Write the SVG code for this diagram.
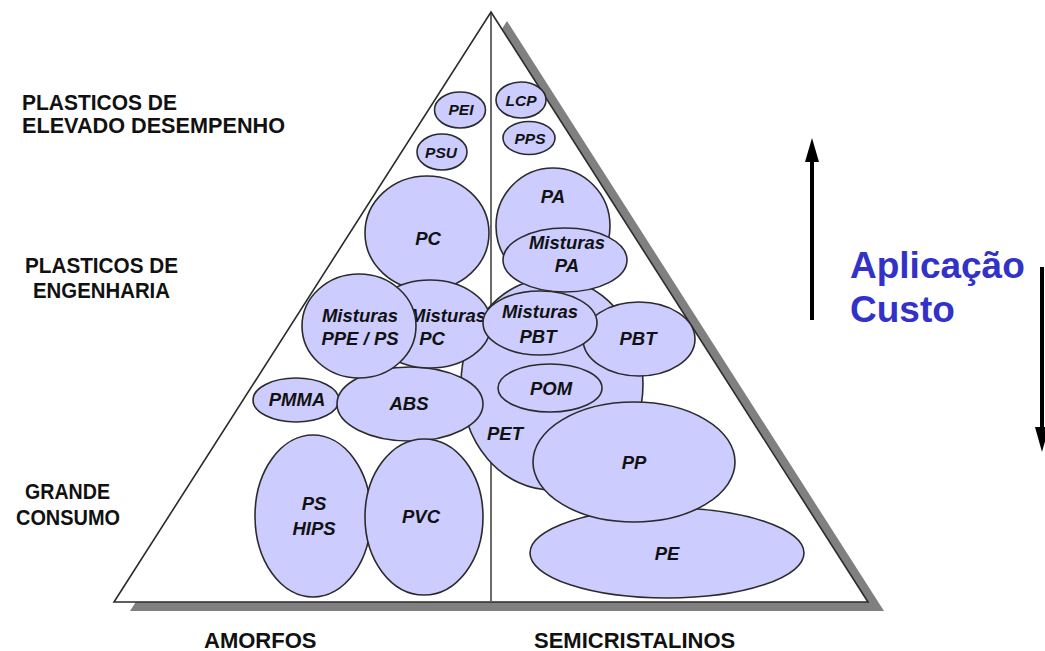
<svg xmlns="http://www.w3.org/2000/svg" width="1045" height="651" viewBox="0 0 1045 651">
<style>
.bg{fill:#ffffff}
.shadow{fill:#808080}
.tri{fill:#ffffff;stroke:#2b2b2b;stroke-width:1.6}
.div{stroke:#2b2b2b;stroke-width:1.4}
.el{fill:#ccccff;stroke:#2b2b2b;stroke-width:1.6}
.lb{font-family:"Liberation Sans",Arial,sans-serif;font-weight:bold;font-style:italic;font-size:18.5px;fill:#111;text-anchor:middle}
.sm{font-size:15.5px}
.cat{font-family:"Liberation Sans",Arial,sans-serif;font-weight:bold;font-size:22px;fill:#111}
.mid{text-anchor:middle}
.blue{font-family:"Liberation Sans",Arial,sans-serif;font-weight:bold;font-size:37px;fill:#3232c8}
.arr{stroke:#000;stroke-width:4}
</style>
<rect class="bg" x="0" y="0" width="1045" height="651"/>
<g id="pyramid">
<polygon class="shadow" points="507,21 884,611 130,611"/>
<polygon class="tri" points="491,12 868,602 114,602"/>
<line class="div" x1="491" y1="12" x2="491" y2="601"/>
</g>
<g id="labels">
<text class="cat" x="22" y="110" textLength="155" lengthAdjust="spacingAndGlyphs">PLASTICOS DE</text>
<text class="cat" x="22" y="133" textLength="263" lengthAdjust="spacingAndGlyphs">ELEVADO DESEMPENHO</text>
<text class="cat" x="25" y="273" textLength="153" lengthAdjust="spacingAndGlyphs">PLASTICOS DE</text>
<text class="cat" x="33" y="298" textLength="137" lengthAdjust="spacingAndGlyphs">ENGENHARIA</text>
<text class="cat" x="25" y="499" textLength="85" lengthAdjust="spacingAndGlyphs">GRANDE</text>
<text class="cat" x="16" y="525" textLength="104" lengthAdjust="spacingAndGlyphs">CONSUMO</text>
<text class="cat" x="204" y="648">AMORFOS</text>
<text class="cat" x="534" y="648">SEMICRISTALINOS</text>
<text class="blue" x="850" y="278">Aplicação</text>
<text class="blue" x="850" y="322">Custo</text>
</g>
<g id="node-PEI"><ellipse class="el" cx="460" cy="110" rx="25.5" ry="18"/><text class="lb sm" x="461" y="115">PEI</text></g>
<g id="node-LCP"><ellipse class="el" cx="521" cy="100" rx="25" ry="18"/><text class="lb sm" x="521" y="106">LCP</text></g>
<g id="node-PPS"><ellipse class="el" cx="529" cy="138" rx="26" ry="16.5"/><text class="lb sm" x="530" y="144">PPS</text></g>
<g id="node-PSU"><ellipse class="el" cx="442" cy="152" rx="25" ry="18"/><text class="lb sm" x="441" y="158">PSU</text></g>
<g id="node-PET"><ellipse class="el" cx="552" cy="384" rx="91" ry="106"/><text class="lb" x="505" y="440">PET</text></g>
<g id="node-PA"><ellipse class="el" cx="553" cy="226" rx="57" ry="58"/><text class="lb" x="553" y="203">PA</text></g>
<g id="node-MisturasPA"><ellipse class="el" cx="565" cy="260" rx="62" ry="32"/><text class="lb" x="567" y="249">Misturas</text><text class="lb" x="567" y="272">PA</text></g>
<g id="node-PC"><ellipse class="el" cx="427" cy="233" rx="62" ry="57"/><text class="lb" x="428" y="245">PC</text></g>
<g id="node-PMMA"><ellipse class="el" cx="296" cy="400" rx="43" ry="22"/><text class="lb" x="297" y="406">PMMA</text></g>
<g id="node-ABS"><ellipse class="el" cx="410" cy="404" rx="73" ry="37"/><text class="lb" x="409" y="410">ABS</text></g>
<g id="node-MisturasPC"><ellipse class="el" cx="430" cy="324" rx="61" ry="44"/><text class="lb" x="410" y="322" style="text-anchor:start">Misturas</text><text class="lb" x="432" y="345">PC</text></g>
<g id="node-MisturasPPE"><ellipse class="el" cx="359" cy="326" rx="57" ry="52"/><text class="lb" x="360" y="322">Misturas</text><text class="lb" x="360" y="345">PPE / PS</text></g>
<g id="node-PBT"><ellipse class="el" cx="639" cy="339" rx="56" ry="37"/><text class="lb" x="638" y="345">PBT</text></g>
<g id="node-MisturasPBT"><ellipse class="el" cx="540" cy="323" rx="57" ry="32"/><text class="lb" x="540" y="318">Misturas</text><text class="lb" x="538" y="343">PBT</text></g>
<g id="node-POM"><ellipse class="el" cx="550" cy="388" rx="52" ry="24"/><text class="lb" x="551" y="395">POM</text></g>
<g id="node-PSHIPS"><ellipse class="el" cx="313" cy="516" rx="58" ry="81"/><text class="lb" x="314" y="510">PS</text><text class="lb" x="314" y="535">HIPS</text></g>
<g id="node-PVC"><ellipse class="el" cx="424" cy="517" rx="59" ry="78"/><text class="lb" x="421" y="523">PVC</text></g>
<g id="node-PE"><ellipse class="el" cx="667" cy="553" rx="137" ry="45"/><text class="lb" x="667" y="560">PE</text></g>
<g id="node-PP"><ellipse class="el" cx="634" cy="462" rx="101" ry="60"/><text class="lb" x="634" y="469">PP</text></g>
<g id="connectors">
<line class="arr" x1="812" y1="320" x2="812" y2="158"/>
<polygon points="812,138 805,162 819,162" fill="#000"/>
<line class="arr" x1="1042" y1="267" x2="1042" y2="432"/>
<polygon points="1042,452 1035,427 1049,427" fill="#000"/>
</g>
</svg>
